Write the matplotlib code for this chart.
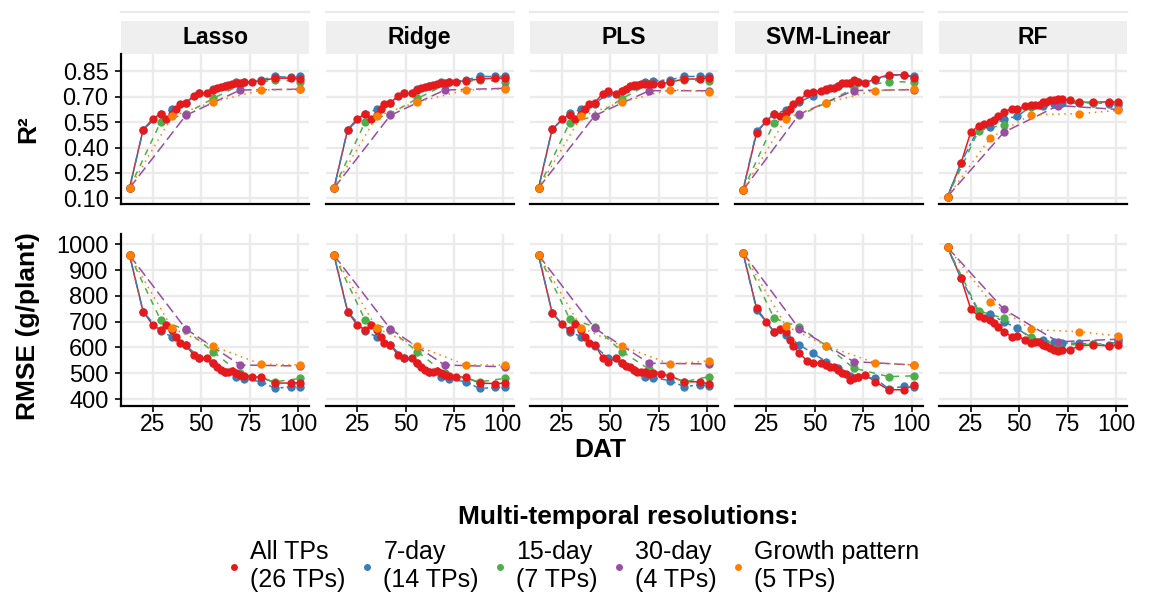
import matplotlib
matplotlib.use("Agg")
import matplotlib.pyplot as plt
from matplotlib.lines import Line2D

plt.rcParams['font.family'] = ['Liberation Sans', 'DejaVu Sans']

# ---- data -------------------------------------------------------------
models = ['Lasso', 'Ridge', 'PLS', 'SVM-Linear', 'RF']
series_names = ['All TPs\n(26 TPs)', '7-day\n(14 TPs)', '15-day\n(7 TPs)',
                '30-day\n(4 TPs)', 'Growth pattern\n(5 TPs)']

dat_all = [13, 20, 25, 29, 32, 35, 37, 39, 42, 46, 49, 53, 56, 58, 60, 62,
           64, 66, 68, 70, 72, 76, 81, 88, 96, 101]
dat_7day = [13, 20, 29, 35, 42, 49, 56, 62, 68, 72, 81, 88, 96, 101]
dat_15day = [13, 29, 42, 56, 70, 88, 101]
dat_30day = [13, 42, 70, 101]
dat_growth = [13, 35, 56, 81, 101]
dats = [dat_all, dat_7day, dat_15day, dat_30day, dat_growth]

# R2 per model: [all, 7-day, 15-day, 30-day, growth pattern]
r2_lasso = [
    [0.16, 0.505, 0.57, 0.60, 0.57, 0.60, 0.63, 0.655, 0.665, 0.705, 0.72, 0.72, 0.74,
     0.75, 0.76, 0.765, 0.77, 0.775, 0.78, 0.78, 0.785, 0.79, 0.795, 0.81, 0.81, 0.805],
    [0.16, 0.505, 0.60, 0.625, 0.665, 0.72, 0.745, 0.765, 0.785, 0.785, 0.80, 0.82, 0.815, 0.82],
    [0.16, 0.55, 0.60, 0.69, 0.77, 0.80, 0.79],
    [0.16, 0.59, 0.74, 0.745],
    [0.16, 0.585, 0.67, 0.74, 0.745]]
r2_ridge = [
    [0.16, 0.505, 0.57, 0.60, 0.57, 0.595, 0.63, 0.655, 0.665, 0.705, 0.72, 0.72, 0.74,
     0.75, 0.76, 0.765, 0.77, 0.775, 0.78, 0.78, 0.785, 0.79, 0.795, 0.805, 0.81, 0.81],
    [0.16, 0.505, 0.60, 0.625, 0.665, 0.72, 0.745, 0.765, 0.785, 0.785, 0.80, 0.82, 0.82, 0.82],
    [0.16, 0.55, 0.60, 0.69, 0.77, 0.80, 0.79],
    [0.16, 0.59, 0.74, 0.75],
    [0.16, 0.585, 0.67, 0.74, 0.745]]
r2_pls = [
    [0.16, 0.507, 0.566, 0.595, 0.566, 0.60, 0.63, 0.658, 0.664, 0.719, 0.732, 0.719, 0.732,
     0.745, 0.762, 0.771, 0.771, 0.775, 0.777, 0.775, 0.777, 0.777, 0.787, 0.805, 0.805, 0.814],
    [0.16, 0.507, 0.604, 0.625, 0.66, 0.72, 0.735, 0.765, 0.79, 0.795, 0.80, 0.82, 0.82, 0.82],
    [0.16, 0.546, 0.585, 0.689, 0.777, 0.80, 0.791],
    [0.16, 0.589, 0.736, 0.736],
    [0.16, 0.585, 0.67, 0.742, 0.73]]
r2_svm = [
    [0.148, 0.487, 0.557, 0.60, 0.587, 0.605, 0.63, 0.66, 0.68, 0.72, 0.727, 0.736, 0.748,
     0.75, 0.752, 0.766, 0.78, 0.78, 0.78, 0.801, 0.79, 0.782, 0.805, 0.83, 0.83, 0.814],
    [0.148, 0.497, 0.60, 0.62, 0.67, 0.706, 0.74, 0.765, 0.78, 0.79, 0.80, 0.825, 0.83, 0.82],
    [0.148, 0.547, 0.59, 0.665, 0.75, 0.79, 0.787],
    [0.148, 0.597, 0.737, 0.742],
    [0.148, 0.57, 0.665, 0.737, 0.745]]
r2_rf = [
    [0.11, 0.31, 0.493, 0.526, 0.54, 0.55, 0.56, 0.585, 0.609, 0.63, 0.625, 0.644, 0.654,
     0.654, 0.654, 0.668, 0.672, 0.679, 0.683, 0.687, 0.687, 0.679, 0.668, 0.668, 0.67, 0.668],
    [0.11, 0.31, 0.515, 0.52, 0.568, 0.585, 0.644, 0.648, 0.66, 0.663, 0.663, 0.665, 0.66, 0.654],
    [0.11, 0.50, 0.535, 0.64, 0.67, 0.665, 0.66],
    [0.11, 0.49, 0.648, 0.625],
    [0.11, 0.457, 0.594, 0.60, 0.62]]

# RMSE (g/plant) per model
rmse_lasso = [
    [958, 739, 687, 668, 687, 668, 640, 616, 609, 571, 558, 558, 539, 525, 513, 505,
     503, 507, 500, 494, 490, 487, 485, 462, 462, 464],
    [958, 739, 662, 642, 609, 560, 539, 505, 487, 478, 467, 441, 448, 448],
    [958, 707, 668, 584, 500, 467, 480],
    [958, 672, 532, 528],
    [958, 674, 605, 535, 532]]
rmse_ridge = [
    [958, 739, 687, 668, 687, 668, 640, 616, 609, 571, 558, 558, 539, 525, 513, 505,
     503, 507, 500, 494, 490, 487, 484, 462, 460, 462],
    [958, 739, 662, 642, 609, 560, 539, 505, 487, 478, 467, 441, 445, 445],
    [958, 707, 668, 584, 500, 467, 480],
    [958, 672, 532, 525],
    [958, 674, 605, 532, 532]]
rmse_pls = [
    [958, 735, 690, 668, 691, 668, 640, 616, 610, 561, 545, 561, 541, 530, 523, 512,
     506, 506, 506, 497, 500, 497, 489, 467, 467, 458],
    [958, 735, 661, 642, 605, 558, 539, 512, 487, 483, 471, 448, 455, 451],
    [958, 712, 680, 584, 516, 467, 487],
    [958, 674, 539, 536],
    [958, 677, 606, 535, 548]]
rmse_svm = [
    [967, 752, 700, 661, 670, 661, 630, 606, 577, 549, 541, 541, 532, 526, 526, 512,
     500, 497, 474, 480, 487, 494, 468, 436, 436, 455],
    [967, 745, 660, 650, 610, 577, 545, 520, 490, 487, 480, 440, 449, 446],
    [967, 713, 680, 606, 520, 487, 490],
    [967, 672, 545, 532],
    [967, 684, 606, 541, 532]]
rmse_rf = [
    [988, 868, 748, 722, 713, 707, 695, 681, 661, 642, 645, 629, 619, 621, 623, 610,
     605, 597, 592, 588, 590, 591, 606, 610, 606, 610],
    [988, 868, 738, 728, 700, 674, 636, 629, 620, 618, 616, 612, 610, 625],
    [988, 742, 713, 639, 610, 612, 620],
    [988, 748, 622, 632],
    [988, 778, 670, 661, 645]]

r2_all_models = [r2_lasso, r2_ridge, r2_pls, r2_svm, r2_rf]
rmse_all_models = [rmse_lasso, rmse_ridge, rmse_pls, rmse_svm, rmse_rf]

r2_ticks = [0.10, 0.25, 0.40, 0.55, 0.70, 0.85]
rmse_ticks = [400, 500, 600, 700, 800, 900, 1000]
dat_ticks = [25, 50, 75, 100]

# ---- style ------------------------------------------------------------
colors = ['#E41A1C', '#377EB8', '#4DAF4A', '#984EA3', '#FF7F00']
linestyles = ['-', (0, (2, 2, 6, 2)), (0, (4, 4)), (0, (7, 3)), (0, (1, 3))]
point_z = [7, 4, 5, 6, 8]   # red over blue, orange on top
GRID = '#EBEBEB'
W, H = 1149, 595


def style_panel(ax, first_col, bottom_row):
    ax.set_facecolor('white')
    ax.grid(True, color=GRID, lw=1.7)
    ax.set_axisbelow(True)
    for s in ['top', 'right']:
        ax.spines[s].set_visible(False)
    ax.spines['bottom'].set_linewidth(1.6)
    ax.spines['left'].set_linewidth(1.6)
    ax.spines['left'].set_visible(first_col)
    ax.tick_params(axis='y', length=4 if first_col else 0, width=1.2,
                   labelsize=17, pad=5, labelleft=first_col)
    ax.tick_params(axis='x', length=4 if bottom_row else 0, width=1.2,
                   labelsize=16.5, pad=1, labelbottom=bottom_row)


def draw_series(ax, values):
    for j in range(5):
        ax.plot(dats[j], values[j], color=colors[j], ls=linestyles[j], lw=1.1, zorder=2)
    for j in range(5):
        ax.plot(dats[j], values[j], color=colors[j], ls='none', marker='o',
                ms=6, mew=0, zorder=point_z[j])


fig = plt.figure(figsize=(W / 100, H / 100), dpi=100)

for i, name in enumerate(models):
    left = (121 + i * 204.5) / W
    width = 188 / W

    strip = fig.add_axes([left, 1 - 54 / H, width, 33 / H])
    strip.set_facecolor('#EFEFEF')
    strip.set_xticks([])
    strip.set_yticks([])
    for s in strip.spines.values():
        s.set_visible(False)
    strip.text(0.5, 0.5, name, ha='center', va='center', fontsize=16.5,
               fontweight='bold', transform=strip.transAxes)
    fig.add_artist(Line2D([left, left + width], [1 - 12 / H, 1 - 12 / H],
                          color=GRID, lw=1.7))

    ax_top = fig.add_axes([left, 1 - 204 / H, width, 150 / H])
    draw_series(ax_top, r2_all_models[i])
    ax_top.set_xlim(8.6, 105.5)
    ax_top.set_ylim(0.066, 0.953)
    ax_top.set_xticks(dat_ticks)
    ax_top.set_yticks(r2_ticks)
    ax_top.set_yticklabels([f'{t:.2f}' for t in r2_ticks])
    style_panel(ax_top, i == 0, False)

    ax_bot = fig.add_axes([left, 1 - 406 / H, width, 172 / H])
    draw_series(ax_bot, rmse_all_models[i])
    ax_bot.set_xlim(8.6, 105.5)
    ax_bot.set_ylim(373, 1040)
    ax_bot.set_xticks(dat_ticks)
    ax_bot.set_yticks(rmse_ticks)
    style_panel(ax_bot, i == 0, True)

# axis titles
fig.text(28 / W, 1 - 129 / H, 'R²', rotation=90, ha='center', va='center',
         fontsize=19, fontweight='bold')
fig.text(28 / W, 1 - 326 / H, 'RMSE (g/plant)', rotation=90, ha='center',
         va='center', fontsize=19, fontweight='bold')
fig.text(600 / W, 1 - 457 / H, 'DAT', ha='center', va='baseline',
         fontsize=19, fontweight='bold')

# legend
fig.text(628 / W, 1 - 517 / H, 'Multi-temporal resolutions:', ha='center',
         va='center', fontsize=19, fontweight='bold')
handles = [Line2D([], [], color=c, marker='o', ls='none', ms=5, mew=0) for c in colors]
fig.legend(handles, series_names, loc='upper left',
           bbox_to_anchor=(228 / W, 1 - 540 / H), ncol=5, frameon=False,
           fontsize=18, handlelength=0.5, handletextpad=0.4, columnspacing=0.6,
           borderpad=0, borderaxespad=0, labelspacing=0)

fig.savefig('out.png', dpi=100)
